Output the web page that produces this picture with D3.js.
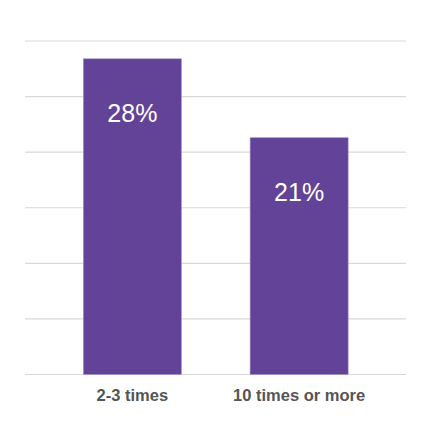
<!DOCTYPE html>
<html>
<head>
<meta charset="utf-8">
<script src="https://cdn.jsdelivr.net/npm/d3@7"></script>
<style>
  body { margin: 0; background: #fff; }
  svg { display: block; }
</style>
</head>
<body>
<svg id="chart" width="439" height="433"></svg>
<script>
  var categories = ["2-3 times", "10 times or more"];
  var values = [28.4, 21.3];
  var valueLabels = ["28%", "21%"];
  var gridTicks = [0, 5, 10, 15, 20, 25, 30];

  var svg = d3.select("#chart");

  var y = d3.scaleLinear().domain([0, 30]).range([374.5, 41]);
  var x = d3.scaleBand()
    .domain(categories)
    .range([49, 382.5])
    .paddingInner(0.412)
    .paddingOuter(0.206);

  // gridlines
  svg.append("g")
    .selectAll("line")
    .data(gridTicks)
    .enter().append("line")
      .attr("x1", 25)
      .attr("x2", 406)
      .attr("y1", function(d) { return y(d); })
      .attr("y2", function(d) { return y(d); })
      .attr("stroke", "#d9d9d9")
      .attr("stroke-width", 1.2);

  // bars
  svg.append("g")
    .selectAll("rect")
    .data(values)
    .enter().append("rect")
      .attr("x", function(d, i) { return x(categories[i]); })
      .attr("y", function(d) { return y(d); })
      .attr("width", x.bandwidth())
      .attr("height", function(d) { return y(0) - y(d); })
      .attr("fill", "#634398")
      .attr("stroke", "#a593c6")
      .attr("stroke-width", 0.6);

  // value labels inside bars
  svg.append("g")
    .selectAll("text")
    .data(values)
    .enter().append("text")
      .attr("x", function(d, i) { return x(categories[i]) + x.bandwidth() / 2; })
      .attr("y", function(d) { return y(d) + 63; })
      .attr("text-anchor", "middle")
      .attr("fill", "#ffffff")
      .style("font-family", "'Liberation Sans', Arial, sans-serif")
      .style("font-size", "25px")
      .text(function(d, i) { return valueLabels[i]; });

  // category labels
  svg.append("g")
    .selectAll("text")
    .data(categories)
    .enter().append("text")
      .attr("x", function(d) { return x(d) + x.bandwidth() / 2; })
      .attr("y", 400.5)
      .attr("text-anchor", "middle")
      .attr("fill", "#555555")
      .style("font-family", "'Liberation Sans', Arial, sans-serif")
      .style("font-size", "16.5px")
      .style("font-weight", "bold")
      .text(function(d) { return d; });
</script>
</body>
</html>
